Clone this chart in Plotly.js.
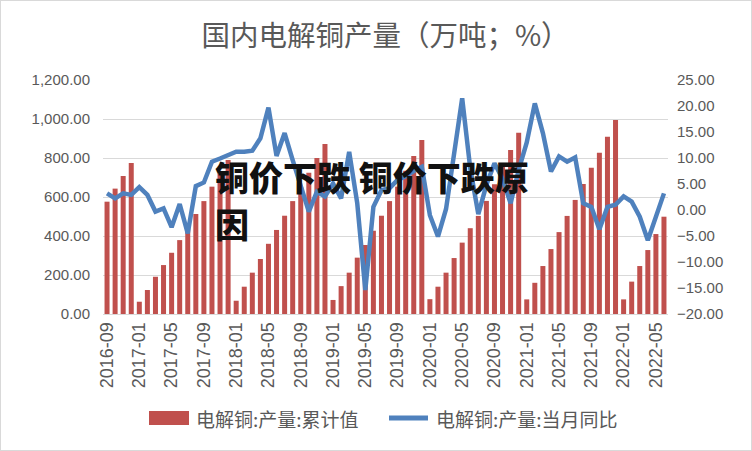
<!DOCTYPE html>
<html>
<head>
<meta charset="utf-8">
<script src="https://cdn.plot.ly/plotly-3.0.1.min.js"></script>
<style>
html,body{margin:0;padding:0;background:#fff;}
#wrap{position:relative;width:752px;height:451px;}
#chart{width:752px;height:451px;}
#frame{position:absolute;left:0;top:0;width:752px;height:451px;box-sizing:border-box;border:1px solid #d9d9d9;pointer-events:none;}
</style>
</head>
<body>
<div id="wrap"><div id="chart"></div><div id="frame"></div></div>
<script>
const months = [
  "2016-09","2016-10","2016-11","2016-12",
  "2017-01","2017-02","2017-03","2017-04","2017-05","2017-06","2017-07","2017-08","2017-09","2017-10","2017-11","2017-12",
  "2018-01","2018-02","2018-03","2018-04","2018-05","2018-06","2018-07","2018-08","2018-09","2018-10","2018-11","2018-12",
  "2019-01","2019-02","2019-03","2019-04","2019-05","2019-06","2019-07","2019-08","2019-09","2019-10","2019-11","2019-12",
  "2020-01","2020-02","2020-03","2020-04","2020-05","2020-06","2020-07","2020-08","2020-09","2020-10","2020-11","2020-12",
  "2021-01","2021-02","2021-03","2021-04","2021-05","2021-06","2021-07","2021-08","2021-09","2021-10","2021-11","2021-12",
  "2022-01","2022-02","2022-03","2022-04","2022-05","2022-06"
];
const cumulative = [
  576, 643, 708, 774,
  63, 123, 191, 251, 314, 379, 445, 513, 579, 653, 720, 790,
  68, 140, 212, 282, 360, 431, 504, 579, 650, 725, 800, 872,
  72, 143, 212, 289, 354, 427, 504, 579, 653, 735, 810, 892,
  76, 140, 212, 287, 366, 440, 503, 580, 665, 759, 841, 930,
  75, 160, 246, 333, 420, 503, 585, 667, 750, 827, 909, 995,
  75, 166, 246, 328, 410, 499
];
const yoy = [
  3.2, 2.25, 3.2, 2.9,
  4.4, 2.9, -0.3, 0.3, -3.3, 1.15, -4.5, 4.6, 5.3, 9.3, 9.9, 10.6,
  11.2, 11.2, 11.4, 13.8, 19.7, 10.4, 14.8, 9.6, 4.5, -0.3, 3.5, 2.6,
  5.1, 2.25, 11.2, 1.3, -15.4, 0.6, 3.8, 4.2, 5.8, 6.5, 7.5, 8.3,
  -1.0, -5.1, 0.2, 10.5, 21.5, 8.0, -0.8, 4.8, 9.0, 6.0, 1.3, 7.7,
  13.0, 20.5, 14.8, 7.4, 10.3, 9.3, 10.1, 1.3, 0.6, -3.7, 0.6, 1.0,
  2.6, 1.6, -1.3, -5.8, -1.3, 3.2
];
const tickLabels = months.filter((m, i) => i % 4 === 0);
const barName = "电解铜:产量:累计值";
const lineName = "电解铜:产量:当月同比";
const titleText = "国内电解铜产量（万吨；%）";
const watermarkLine1 = "铜价下跌 铜价下跌原";
const watermarkLine2 = "因";

// layout geometry in pixels
const L = 103, R = 668, T = 80, B = 314;
const px = x => (x - L) / (R - L);
const py = y => (B - y) / (B - T);

const cjk = '"Noto Sans CJK SC", "Noto Sans", sans-serif';
const num = '"Liberation Sans", Arial, sans-serif';
const grey = '#595959';

const traces = [
  {
    type: 'bar', x: months, y: cumulative, name: barName,
    marker: {color: '#C0504D'}, yaxis: 'y', showlegend: false,
    hoverinfo: 'x+y'
  },
  {
    type: 'scatter', mode: 'lines', x: months, y: yoy, name: lineName,
    line: {color: '#4F81BD', width: 4.5}, yaxis: 'y2', showlegend: false
  }
];

const wmFont = {family: cjk, size: 34, color: '#111', weight: 900};

const layout = {
  width: 752, height: 451,
  margin: {l: L, r: 752 - R, t: T, b: 451 - B, pad: 0},
  paper_bgcolor: '#fff', plot_bgcolor: '#fff',
  bargap: 0.38,
  title: {text: titleText, font: {family: cjk, size: 28.5, color: grey},
          x: 0.5, xref: 'paper', xanchor: 'center', y: 1 - 36/451, yref: 'container', yanchor: 'middle'},
  xaxis: {
    type: 'category', categoryorder: 'array', categoryarray: months,
    range: [-0.5, months.length - 0.5],
    tickmode: 'array', tickvals: tickLabels, ticktext: tickLabels,
    tickangle: -90, tickfont: {family: num, size: 18, color: grey},
    showline: true, linecolor: '#d9d9d9', linewidth: 1,
    ticks: '', showgrid: false, zeroline: false, automargin: false
  },
  yaxis: {
    range: [0, 1200], dtick: 200, tick0: 0, tickformat: ',.2f',
    tickfont: {family: num, size: 15, color: grey},
    showgrid: true, gridcolor: '#d9d9d9', gridwidth: 1,
    zeroline: false, showline: false, ticks: '', ticklabelstandoff: 12, automargin: false
  },
  yaxis2: {
    range: [-20, 25], dtick: 5, tick0: -20, tickformat: '.2f',
    overlaying: 'y', side: 'right',
    tickfont: {family: num, size: 15, color: grey},
    showgrid: false, zeroline: false, showline: false, ticks: '', ticklabelstandoff: 8, automargin: false
  },
  shapes: [
    {type: 'rect', xref: 'paper', yref: 'paper', x0: px(149), x1: px(189), y0: py(425), y1: py(411),
     fillcolor: '#C0504D', line: {width: 0}},
    {type: 'line', xref: 'paper', yref: 'paper', x0: px(389), x1: px(428), y0: py(418), y1: py(418),
     line: {color: '#4F81BD', width: 5}}
  ],
  annotations: [
    {text: barName, xref: 'paper', yref: 'paper', x: px(194), y: py(418), xanchor: 'left', yanchor: 'middle',
     showarrow: false, font: {family: cjk, size: 19, color: grey}},
    {text: lineName, xref: 'paper', yref: 'paper', x: px(434), y: py(418), xanchor: 'left', yanchor: 'middle',
     showarrow: false, font: {family: cjk, size: 19, color: grey}},
    {text: watermarkLine1, xref: 'paper', yref: 'paper', x: px(213), y: py(176), xanchor: 'left', yanchor: 'middle',
     align: 'left', showarrow: false, font: wmFont},
    {text: watermarkLine2, xref: 'paper', yref: 'paper', x: px(213), y: py(223), xanchor: 'left', yanchor: 'middle',
     align: 'left', showarrow: false, font: wmFont}
  ]
};

Plotly.newPlot('chart', traces, layout, {displayModeBar: false, staticPlot: true});
</script>
</body>
</html>
